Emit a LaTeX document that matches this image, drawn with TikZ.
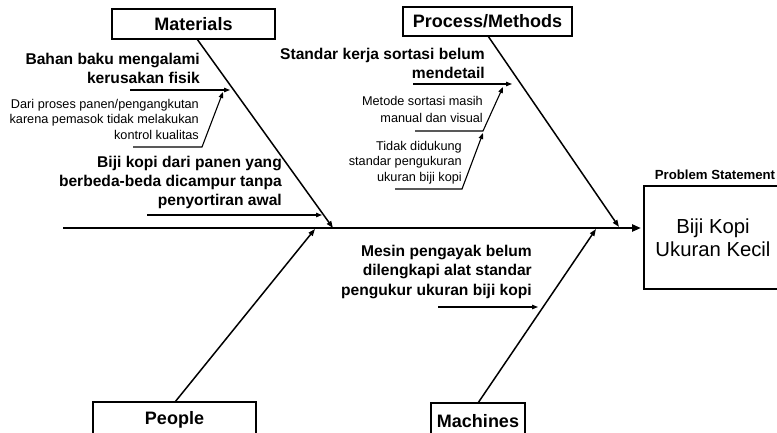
\documentclass[tikz,border=0pt]{standalone}
\usepackage{fontspec}
\setmainfont{Liberation Sans}
\usetikzlibrary{arrows.meta}
\begin{document}
\begin{tikzpicture}[x=1pt,y=-1pt,
  cat/.style={draw, line width=1.6pt, inner sep=0pt, font=\bfseries\fontsize{18}{21}\selectfont},
  cause/.style={font=\bfseries\fontsize{15.6}{18.7}\selectfont, align=right, inner sep=0pt, anchor=base east},
  subcause/.style={font=\fontsize{12.7}{15.2}\selectfont, align=right, inner sep=0pt, anchor=base east},
  spine/.style={line width=1.5pt, -{Triangle[length=7pt,width=5pt]}},
  twig/.style={line width=1.1pt, -{Triangle[length=6pt,width=4.5pt]}},
]
\clip (0,0) rectangle (777,432);
\fill[white] (0,0) rectangle (777,432);

% category boxes (the two lower ones run off the bottom edge)
\node[cat, minimum width=163pt, minimum height=30pt] (mat) at (193.5,24) {Materials};
\node[cat, minimum width=169pt, minimum height=29pt] (proc) at (487.5,21.5) {Process/Methods};
\node[cat, minimum width=163pt, minimum height=36pt] (ppl) at (174.5,420) {People};
\node[cat, minimum width=94pt, minimum height=36pt] (mach) at (478,421) {Machines};

% effect box
\node[font=\bfseries\fontsize{13.2}{15}\selectfont, inner sep=0pt] (pslabel) at (715,175) {Problem Statement};
\node[draw, line width=1.5pt, minimum width=138pt, minimum height=103pt, align=center,
      font=\fontsize{20.3}{23}\selectfont] (prob) at (713,237.5) {Biji Kopi\\Ukuran Kecil};

% main backbone
\coordinate (tail) at (63,228);
\coordinate (head) at (641,228);
\draw[line width=2.4pt, -{Triangle[length=9pt,width=7pt]}] (tail) -- (head);

% category spines
\coordinate (matS) at (197,39);   \coordinate (matE) at (333,228);
\coordinate (procS) at (488,36);  \coordinate (procE) at (619,227);
\coordinate (pplS) at (175,402);  \coordinate (pplE) at (315,229);
\coordinate (machS) at (478,403); \coordinate (machE) at (596,229);
\draw[spine] (matS) -- (matE);
\draw[spine] (procS) -- (procE);
\draw[spine] (pplS) -- (pplE);
\draw[spine] (machS) -- (machE);

% Materials causes (anchored at the baseline of the last line)
\node[cause] (c1) at (200,83) {Bahan baku mengalami\\kerusakan fisik};
\coordinate (c1a) at (130,90); \coordinate (c1b) at (230,90);
\draw[twig] (c1a) -- (c1b);
\node[subcause] (c1s) at (199,139) {Dari proses panen/pengangkutan\\karena pemasok tidak melakukan\\kontrol kualitas};
\coordinate (c1sa) at (133,147); \coordinate (c1sb) at (202,147); \coordinate (c1sc) at (223,92);
\draw[twig] (c1sa) -- (c1sb) -- (c1sc);
\node[cause] (c2) at (282,205) {Biji kopi dari panen yang\\berbeda-beda dicampur tanpa\\penyortiran awal};
\coordinate (c2a) at (147,215); \coordinate (c2b) at (322,215);
\draw[twig] (c2a) -- (c2b);

% Process/Methods causes
\node[cause] (c3) at (485,78) {Standar kerja sortasi belum\\mendetail};
\coordinate (c3a) at (413,84); \coordinate (c3b) at (512,84);
\draw[twig] (c3a) -- (c3b);
\node[subcause, font=\fontsize{12.7}{16.5}\selectfont] (c3s) at (483,122) {Metode sortasi masih\\manual dan visual};
\coordinate (c3sa) at (415,131); \coordinate (c3sb) at (483,131); \coordinate (c3sc) at (503,87);
\draw[twig] (c3sa) -- (c3sb) -- (c3sc);
\node[subcause] (c3t) at (462,181) {Tidak didukung\\standar pengukuran\\ukuran biji kopi};
\coordinate (c3ta) at (395,189); \coordinate (c3tb) at (462,189); \coordinate (c3tc) at (483,133);
\draw[twig] (c3ta) -- (c3tb) -- (c3tc);

% Machines cause
\node[cause, font=\bfseries\fontsize{15.6}{19.5}\selectfont] (c4) at (532,295) {Mesin pengayak belum\\dilengkapi alat standar\\pengukur ukuran biji kopi};
\coordinate (c4a) at (438,307); \coordinate (c4b) at (538,307);
\draw[twig] (c4a) -- (c4b);
\end{tikzpicture}
\end{document}
